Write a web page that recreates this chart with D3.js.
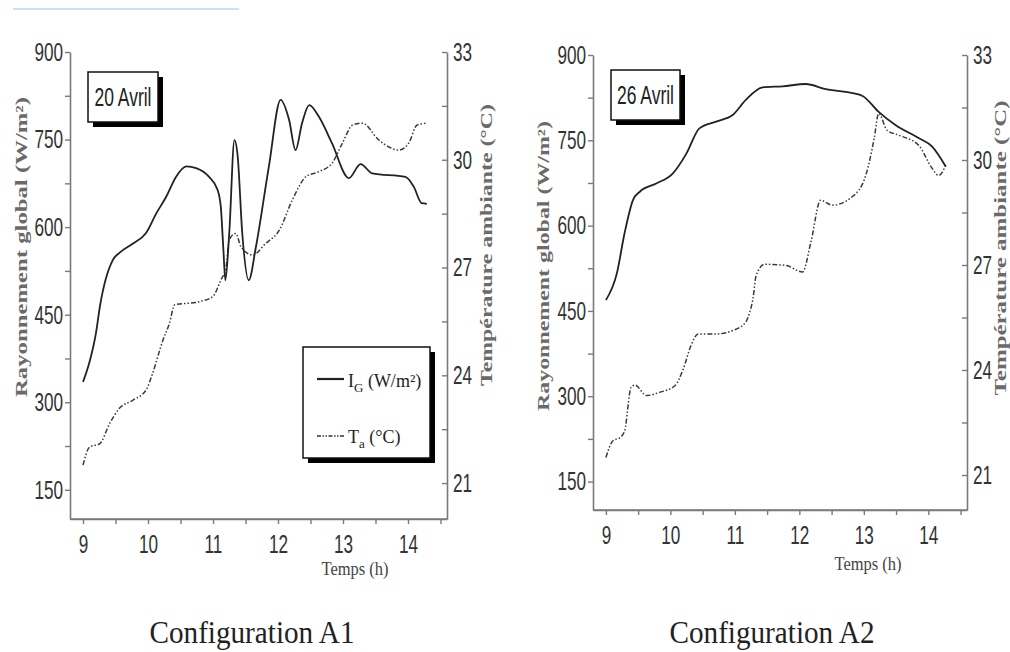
<!DOCTYPE html>
<html lang="fr">
<head>
<meta charset="UTF-8">
<title>Configuration A1 / A2</title>
<script src="https://cdn.jsdelivr.net/npm/d3@7"></script>
<style>
  body { margin: 0; background: #fff; }
  svg { display: block; }
</style>
</head>
<body>
<svg id="chart"></svg>
<script>
// values
var a1Hours = [9.0, 9.1, 9.2, 9.26, 9.46, 9.56, 9.77, 9.97, 10.13, 10.28, 10.43, 10.59, 10.74, 10.94, 11.07, 11.12, 11.16, 11.19, 11.25, 11.33, 11.38, 11.45, 11.55, 11.66, 11.86, 12.04, 12.17, 12.27, 12.37, 12.48, 12.63, 12.83, 13.09, 13.27, 13.45, 13.96, 14.09, 14.21, 14.29]
var a1IG = [335, 369, 419, 464, 544, 556, 572, 590, 624, 652, 686, 704, 701, 686, 664, 635, 561, 509, 590, 749, 721, 590, 509, 566, 704, 818, 784, 732, 778, 809, 789, 744, 684, 708, 692, 686, 669, 641, 640]

var a1TaHours = [9.0, 9.1, 9.26, 9.41, 9.56, 9.77, 9.97, 10.07, 10.23, 10.33, 10.41, 10.79, 11.0, 11.12, 11.2, 11.25, 11.35, 11.43, 11.61, 11.81, 12.02, 12.22, 12.43, 12.63, 12.83, 12.99, 13.15, 13.3, 13.55, 13.86, 14.01, 14.14, 14.29]
var a1Ta = [21.5, 22.0, 22.1, 22.66, 23.08, 23.31, 23.59, 24.05, 24.98, 25.45, 25.96, 26.05, 26.2, 26.65, 27.0, 27.77, 27.95, 27.58, 27.35, 27.67, 28.04, 28.88, 29.53, 29.67, 29.9, 30.46, 30.97, 31.02, 30.55, 30.27, 30.46, 30.97, 31.02]

var a2Hours = [9.0, 9.17, 9.29, 9.42, 9.53, 9.78, 10.04, 10.25, 10.45, 10.71, 10.97, 11.17, 11.43, 11.74, 12.1, 12.41, 12.72, 12.98, 13.23, 13.49, 13.85, 14.06, 14.27]
var a2IG = [469, 516, 587, 645, 660, 674, 692, 727, 771, 783, 795, 821, 843, 845, 849, 840, 835, 828, 800, 777, 754, 739, 704]

var a2TaHours = [9.0, 9.11, 9.22, 9.29, 9.39, 9.45, 9.63, 9.83, 10.07, 10.2, 10.32, 10.43, 10.71, 10.97, 11.17, 11.23, 11.28, 11.33, 11.46, 11.79, 12.05, 12.18, 12.33, 12.51, 12.82, 13.03, 13.16, 13.23, 13.36, 13.54, 13.85, 14.06, 14.16, 14.27]
var a2Ta = [21.5, 21.98, 22.07, 22.26, 23.5, 23.57, 23.27, 23.36, 23.55, 24.03, 24.7, 25.03, 25.03, 25.13, 25.37, 25.65, 26.03, 26.7, 27.02, 26.99, 26.8, 27.66, 28.85, 28.71, 28.95, 29.56, 30.61, 31.33, 30.85, 30.71, 30.42, 29.76, 29.56, 29.85]

var hourTicks = [9, 9.5, 10, 10.5, 11, 11.5, 12, 12.5, 13, 13.5, 14, 14.5]
var igTicks = [150, 225, 300, 375, 450, 525, 600, 675, 750, 825, 900]
var taTicks = [21, 22.5, 24, 25.5, 27, 28.5, 30, 31.5, 33]

var svg = d3.select("#chart")
            .attr("width", 1010)
            .attr("height", 652)
            .style("font-family", "'Liberation Sans', Arial, sans-serif")

// faint blue rule at the very top
svg.append("line")
   .attr("x1", 13).attr("x2", 239)
   .attr("y1", 9).attr("y2", 9)
   .attr("stroke", "#cfe0f6")
   .attr("stroke-width", 2)

var SX = 0.66   // tick numbers are a narrow face
var axisCol = "#7a7a7a"
var serif = "'Liberation Serif', 'Times New Roman', serif"

function squeeze(sel, dx) {
    sel.selectAll("text")
       .attr("fill", "#333")
       .style("font-size", "26px")
       .attr("transform", "scale(" + SX + ",1)")
       .attr("x", dx / SX)
}

function panel(p) {
    var x = d3.scaleLinear().domain([8.8, 14.6]).range([p.left, p.right])
    var yI = d3.scaleLinear().domain([100, 900]).range([p.bottom, p.top])
    var yT = d3.scaleLinear().domain([20, 33]).range([p.bottom, p.top])

    var gx = svg.append("g")
        .attr("transform", "translate(0," + p.bottom + ")")
        .call(d3.axisBottom(x).tickValues(hourTicks).tickSize(5).tickSizeOuter(0)
              .tickFormat(d => d % 1 === 0 ? d : ""))
    gx.selectAll("text").attr("y", 16).attr("dy", "0.71em")
    squeeze(gx, 0)

    var gl = svg.append("g")
        .attr("transform", "translate(" + p.left + ",0)")
        .call(d3.axisLeft(yI).tickValues(igTicks).tickSize(5).tickSizeOuter(0)
              .tickFormat(d => d % 150 === 0 ? d : ""))
    squeeze(gl, -7)

    var gr = svg.append("g")
        .attr("transform", "translate(" + p.right + ",0)")
        .call(d3.axisRight(yT).tickValues(taTicks).tickSize(-5).tickSizeOuter(0)
              .tickFormat(d => d % 3 === 0 ? d : ""))
    squeeze(gr, 6)
    gr.selectAll("text").attr("text-anchor", "start")

    svg.selectAll(".domain").attr("stroke", axisCol).attr("stroke-width", 1.6)
    svg.selectAll(".tick line").attr("stroke", axisCol).attr("stroke-width", 1.4)

    svg.append("line").attr("x1", p.left).attr("x2", p.right)
       .attr("y1", p.bottom).attr("y2", p.bottom)
       .attr("stroke", axisCol).attr("stroke-width", 1.6)

    var lineI = d3.line().x(d => x(d[0])).y(d => yI(d[1])).curve(d3.curveMonotoneX)
    var lineT = d3.line().x(d => x(d[0])).y(d => yT(d[1])).curve(d3.curveMonotoneX)

    svg.append("path")
       .datum(d3.zip(p.taHours, p.ta))
       .attr("d", lineT)
       .attr("fill", "none")
       .attr("stroke", "#3a3a3a")
       .attr("stroke-width", 1.5)
       .attr("stroke-dasharray", "5,2,1.5,2,1.5,2")

    svg.append("path")
       .datum(d3.zip(p.igHours, p.ig))
       .attr("d", lineI)
       .attr("fill", "none")
       .attr("stroke", "#222")
       .attr("stroke-width", 1.8)

    // date box with drop shadow
    var b = p.box
    svg.append("rect").attr("x", b[0] + 5).attr("y", b[1] + 5)
       .attr("width", b[2]).attr("height", b[3]).attr("fill", "#000")
    svg.append("rect").attr("x", b[0]).attr("y", b[1])
       .attr("width", b[2]).attr("height", b[3])
       .attr("fill", "#fff").attr("stroke", "#111").attr("stroke-width", 1.5)
    svg.append("text")
       .attr("x", b[0] + b[2] / 2).attr("y", b[1] + b[3] / 2)
       .attr("dy", "0.36em")
       .attr("text-anchor", "middle")
       .attr("textLength", 57).attr("lengthAdjust", "spacingAndGlyphs")
       .style("font-size", "25px")
       .attr("fill", "#222")
       .text(p.date)

    // axis titles
    svg.append("text")
       .attr("x", p.xTitle[0]).attr("y", p.xTitle[1])
       .attr("text-anchor", "middle")
       .attr("textLength", 67).attr("lengthAdjust", "spacingAndGlyphs")
       .style("font-family", serif)
       .style("font-size", "18px")
       .attr("fill", "#444")
       .text("Temps (h)")

    p.yTitles.forEach(function (t) {
        svg.append("text")
           .attr("transform", "translate(" + t.x + "," + t.y + ") rotate(-90)")
           .attr("text-anchor", "middle")
           .attr("dy", "0.35em")
           .attr("textLength", t.len).attr("lengthAdjust", "spacingAndGlyphs")
           .style("font-family", serif)
           .style("font-size", "16px")
           .style("font-weight", "bold")
           .attr("fill", "#6a6a6a")
           .text(t.label)
    })

    svg.append("text")
       .attr("x", p.caption[0]).attr("y", p.caption[1])
       .attr("text-anchor", "middle")
       .attr("textLength", 205).attr("lengthAdjust", "spacingAndGlyphs")
       .style("font-family", serif)
       .style("font-size", "31px")
       .attr("fill", "#222")
       .text(p.captionText)
}

var igLabel = "Rayonnement global (W/m²)"
var taLabel = "Température ambiante (°C)"

panel({
    left: 70, right: 447, top: 52, bottom: 519,
    igHours: a1Hours, ig: a1IG, taHours: a1TaHours, ta: a1Ta,
    box: [88, 72, 70, 50], date: "20 Avril",
    xTitle: [355, 575],
    yTitles: [{x: 21, y: 247, len: 300, label: igLabel},
              {x: 486, y: 245, len: 282, label: taLabel}],
    caption: [252, 643], captionText: "Configuration A1"
})

panel({
    left: 593, right: 967, top: 55, bottom: 510,
    igHours: a2Hours, ig: a2IG, taHours: a2TaHours, ta: a2Ta,
    box: [611, 70, 69, 50], date: "26 Avril",
    xTitle: [868, 570],
    yTitles: [{x: 543, y: 266, len: 290, label: igLabel},
              {x: 1000, y: 248, len: 295, label: taLabel}],
    caption: [772, 643], captionText: "Configuration A2"
})

// legend (left panel only)
var lg = svg.append("g")
lg.append("rect").attr("x", 308).attr("y", 352).attr("width", 127).attr("height", 111).attr("fill", "#000")
lg.append("rect").attr("x", 303).attr("y", 347).attr("width", 127).attr("height", 111)
  .attr("fill", "#fff").attr("stroke", "#111").attr("stroke-width", 1.5)
lg.append("line").attr("x1", 317).attr("x2", 344).attr("y1", 379).attr("y2", 379)
  .attr("stroke", "#222").attr("stroke-width", 2.2)
lg.append("line").attr("x1", 317).attr("x2", 344).attr("y1", 436).attr("y2", 436)
  .attr("stroke", "#333").attr("stroke-width", 1.6).attr("stroke-dasharray", "4,1.5,1.5,1.5,1.5,1.5")

var t1 = lg.append("text").attr("x", 348).attr("y", 387)
  .style("font-family", serif).style("font-size", "18px").attr("fill", "#222")
t1.append("tspan").text("I")
t1.append("tspan").attr("dy", 5).style("font-size", "13px").text("G")
t1.append("tspan").attr("dy", -5).text(" (W/m²)")

var t2 = lg.append("text").attr("x", 348).attr("y", 443)
  .style("font-family", serif).style("font-size", "18px").attr("fill", "#222")
t2.append("tspan").text("T")
t2.append("tspan").attr("dy", 5).style("font-size", "13px").text("a")
t2.append("tspan").attr("dy", -5).text(" (°C)")
</script>
</body>
</html>
